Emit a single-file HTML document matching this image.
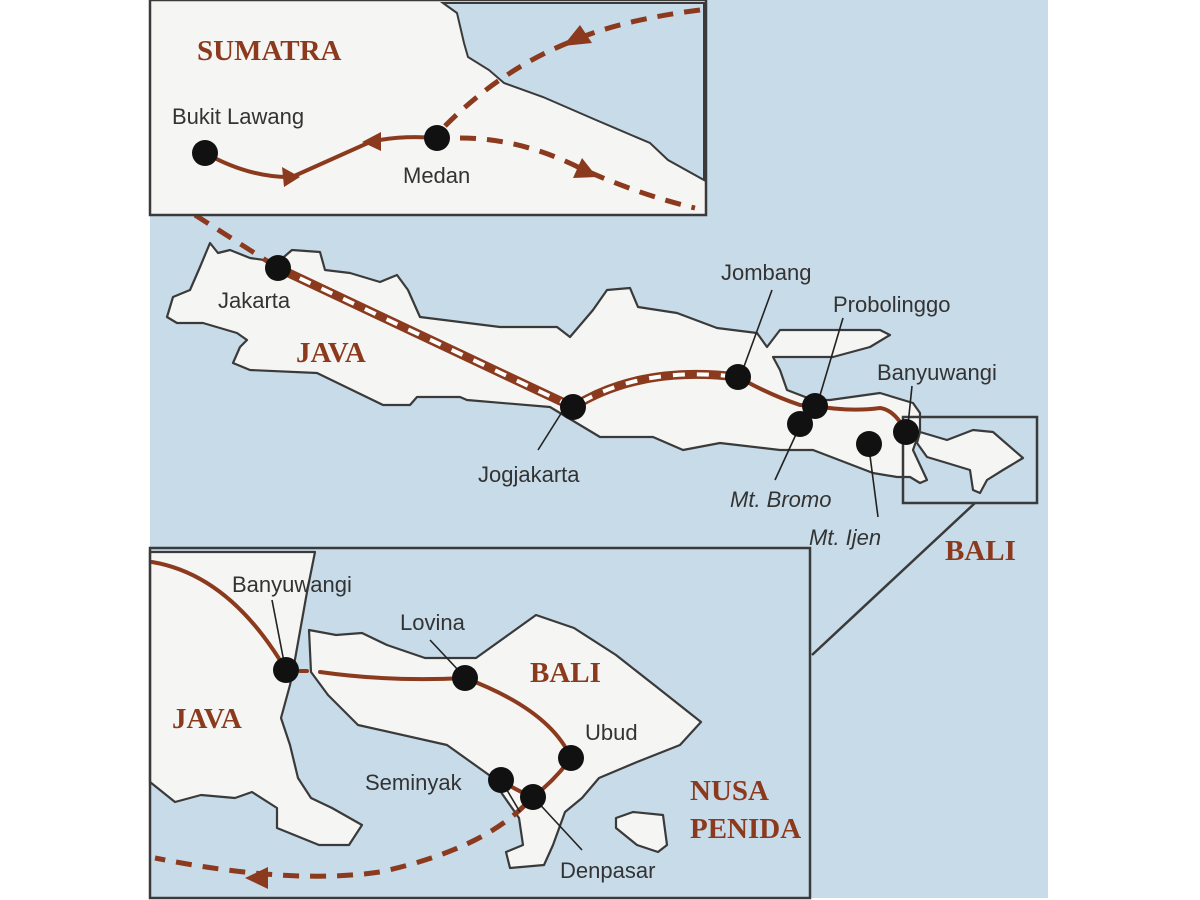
<!DOCTYPE html>
<html><head><meta charset="utf-8"><style>
html,body{margin:0;padding:0;background:#fff;}
svg{display:block}
.c{font-family:"Liberation Sans",sans-serif;font-size:22px;fill:#333;}
.i{font-style:italic}
.b{font-family:"Liberation Serif",serif;font-weight:bold;font-size:29px;fill:#8b3a1e;}
.land{fill:#f5f5f3;stroke:#3a3a3a;stroke-width:2.2;stroke-linejoin:round}
.rt{fill:none;stroke:#8b3a1e;stroke-width:4;stroke-linecap:round}
.ds{fill:none;stroke:#8b3a1e;stroke-width:5;stroke-dasharray:16 11}
.ld{stroke:#222;stroke-width:1.6}
</style></head><body>
<svg width="1200" height="900" viewBox="0 0 1200 900" xmlns="http://www.w3.org/2000/svg">
<rect x="150" y="0" width="898" height="898" fill="#c8dbe8"/>
<!-- Java main -->
<polygon class="land" points="210,243 218,253 230,250 250,258 278,262 292,250 320,252 325,270 350,273 380,282 397,275 408,290 420,317 500,327 557,327 570,337 593,310 607,290 630,288 638,307 677,313 717,328 757,333 767,347 780,330 880,330 890,335 870,347 833,357 773,357 780,370 787,390 813,400 830,400 880,393 913,403 920,413 920,430 913,450 927,480 920,483 910,477 897,477 873,473 813,450 780,450 720,443 683,450 653,437 600,437 550,407 467,400 460,397 417,397 410,405 383,405 317,373 250,370 233,363 240,347 247,340 237,333 203,323 177,323 167,317 173,297 190,290 200,267"/>
<polygon class="land" points="920,432 947,440 973,430 993,432 1023,458 1003,470 987,480 980,493 973,490 970,470 947,463 927,457 917,443"/>
<rect x="903" y="417" width="134" height="86" fill="none" stroke="#3a3a3a" stroke-width="2.5"/>
<line x1="975" y1="503" x2="812" y2="655" stroke="#3a3a3a" stroke-width="2.5"/>
<!-- routes main -->
<path class="ds" d="M195,215 L278,268"/>
<path d="M278,268 L573,407 Q640,365 738,377" fill="none" stroke="#8b3a1e" stroke-width="9"/>
<path d="M278,268 L573,407 Q640,365 738,377" fill="none" stroke="#fff" stroke-width="4" stroke-dasharray="12 12"/>
<path class="rt" d="M738,377 Q770,395 800,405 L815,406 Q850,412 880,408 Q895,410 906,432"/>
<g class="ld"><line x1="772" y1="290" x2="742" y2="372"/><line x1="843" y1="318" x2="818" y2="402"/><line x1="912" y1="386" x2="908" y2="425"/><line x1="562" y1="412" x2="538" y2="450"/><line x1="798" y1="430" x2="775" y2="480"/><line x1="869" y1="448" x2="878" y2="517"/></g>
<g fill="#111"><circle cx="278" cy="268" r="13"/><circle cx="573" cy="407" r="13"/><circle cx="738" cy="377" r="13"/><circle cx="815" cy="406" r="13"/><circle cx="800" cy="424" r="13"/><circle cx="869" cy="444" r="13"/><circle cx="906" cy="432" r="13"/></g>
<text class="c" x="218" y="308">Jakarta</text>
<text class="b" x="296" y="362">JAVA</text>
<text class="c" x="478" y="482">Jogjakarta</text>
<text class="c" x="721" y="280">Jombang</text>
<text class="c" x="833" y="312">Probolinggo</text>
<text class="c" x="877" y="380">Banyuwangi</text>
<text class="c i" x="730" y="507">Mt. Bromo</text>
<text class="c i" x="809" y="545">Mt. Ijen</text>
<text class="b" x="945" y="560">BALI</text>
<!-- top inset -->
<rect x="150" y="0" width="556" height="215" fill="#f5f5f3"/>
<polygon points="443,3 457,13 464,43 468,57 489,70 504,83 543,97 596,120 650,143 668,160 704,180 704,3" fill="#c8dbe8" stroke="#3a3a3a" stroke-width="2"/>
<path class="ds" d="M700,10 Q620,20 570,42 Q500,70 443,128"/>
<path class="ds" d="M460,138 Q520,138 580,168 Q640,195 695,208"/>
<path class="rt" d="M205,153 Q250,178 292,177 Q330,160 370,142 Q400,135 437,138"/>
<polygon points="300,177 282,167 284,187" fill="#8b3a1e"/>
<polygon points="362,142 381,132 381,151" fill="#8b3a1e"/>
<polygon points="563,46 580,25 592,43" fill="#8b3a1e"/>
<polygon points="597,177 573,178 582,158" fill="#8b3a1e"/>
<circle cx="205" cy="153" r="13" fill="#111"/><circle cx="437" cy="138" r="13" fill="#111"/>
<text class="b" x="197" y="60">SUMATRA</text>
<text class="c" x="172" y="124">Bukit Lawang</text>
<text class="c" x="403" y="183">Medan</text>
<rect x="150" y="0" width="556" height="215" fill="none" stroke="#3a3a3a" stroke-width="2.5"/>
<!-- bottom inset -->
<rect x="150" y="548" width="660" height="350" fill="#c8dbe8"/>
<polygon class="land" points="150,552 315,552 307,592 294,665 290,685 281,718 290,745 298,778 311,798 332,808 362,825 349,845 319,845 277,828 277,808 252,792 235,798 201,795 175,802 150,782"/>
<polygon class="land" points="309,630 336,635 362,633 387,645 425,658 476,658 536,615 574,628 616,655 658,688 701,722 680,745 637,762 599,778 582,798 565,812 553,845 544,865 510,868 506,852 523,845 519,818 489,775 447,745 358,725 328,695 311,672"/>
<polygon class="land" points="616,818 633,812 663,815 667,845 658,852 637,845 616,828"/>
<path class="rt" d="M152,562 Q230,575 286,670"/>
<path class="rt" d="M300,671 L307,671"/>
<path class="rt" d="M320,672 Q390,682 465,678 Q550,710 571,758 Q555,780 533,797 Q515,790 501,780"/>
<path class="ds" d="M525,805 Q480,850 380,872 Q290,885 155,858"/>
<polygon points="245,878 268,867 268,889" fill="#8b3a1e"/>
<g class="ld"><line x1="272" y1="600" x2="284" y2="662"/><line x1="430" y1="640" x2="460" y2="672"/><line x1="501" y1="780" x2="520" y2="812"/><line x1="533" y1="797" x2="582" y2="850"/></g>
<g fill="#111"><circle cx="286" cy="670" r="13"/><circle cx="465" cy="678" r="13"/><circle cx="571" cy="758" r="13"/><circle cx="501" cy="780" r="13"/><circle cx="533" cy="797" r="13"/></g>
<text class="c" x="232" y="592">Banyuwangi</text>
<text class="c" x="400" y="630">Lovina</text>
<text class="b" x="530" y="682">BALI</text>
<text class="c" x="585" y="740">Ubud</text>
<text class="c" x="365" y="790">Seminyak</text>
<text class="c" x="560" y="878">Denpasar</text>
<text class="b" x="172" y="728">JAVA</text>
<text class="b" x="690" y="800">NUSA</text>
<text class="b" x="690" y="838">PENIDA</text>
<rect x="150" y="548" width="660" height="350" fill="none" stroke="#3a3a3a" stroke-width="2.5"/>
</svg>
</body></html>
